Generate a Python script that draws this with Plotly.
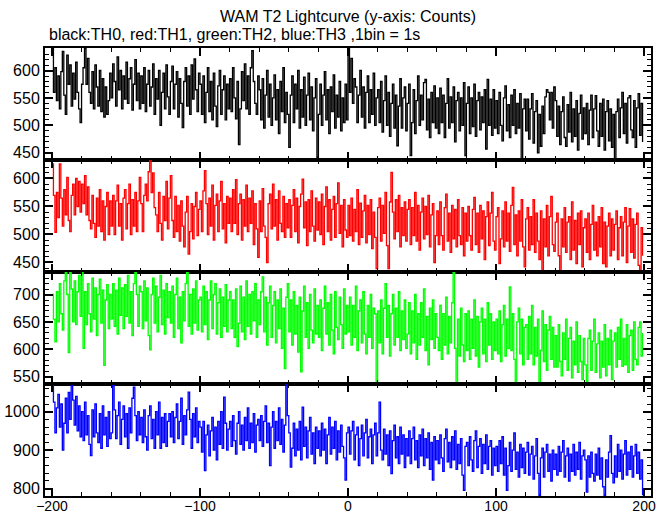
import plotly.graph_objects as go
from plotly.subplots import make_subplots

# time bins (1 bin = 1 s)
time_s = list(range(-200, 200))

th0_black = [
    640, 560, 605, 545, 590, 530, 598, 635, 555, 520, 628, 575, 610, 535, 595, 548, 615, 560, 530, 505,
    575, 605, 640, 575, 622, 560, 540, 598, 530, 610, 570, 535, 600, 525, 585, 515, 570, 520, 545, 595,
    550, 612, 580, 535, 625, 565, 600, 530, 590, 548, 615, 540, 585, 605, 528, 575, 620, 545, 595, 530,
    590, 540, 605, 525, 575, 600, 535, 570, 612, 520, 585, 548, 600, 500, 560, 595, 530, 610, 552, 520,
    580, 608, 530, 575, 598, 515, 585, 540, 496, 580, 605, 535, 590, 520, 610, 548, 621, 565, 525, 595,
    575, 520, 590, 505, 560, 605, 525, 580, 510, 595, 535, 498, 572, 600, 520, 565, 590, 510, 575, 530,
    585, 525, 605, 550, 512, 580, 465, 530, 598, 545, 612, 530, 590, 520, 605, 636, 580, 540, 520, 590,
    565, 510, 585, 495, 555, 600, 515, 575, 500, 550, 592, 510, 565, 485, 580, 525, 605, 505, 560, 520,
    460, 555, 590, 505, 575, 530, 600, 495, 565, 515, 588, 500, 555, 595, 510, 570, 490, 550, 585, 442,
    520, 575, 500, 555, 598, 510, 565, 485, 570, 525, 592, 495, 555, 515, 580, 490, 550, 505, 575, 510,
    641, 560, 622, 540, 585, 570, 505, 555, 600, 515, 570, 495, 560, 590, 505, 565, 520, 595, 500, 550,
    565, 505, 580, 488, 545, 590, 500, 560, 480, 540, 575, 495, 555, 463, 535, 585, 495, 550, 570, 490,
    540, 575, 445, 505, 565, 485, 545, 590, 500, 555, 510, 578, 584, 492, 548, 478, 560, 505, 572, 495,
    550, 485, 568, 505, 555, 478, 540, 585, 495, 552, 505, 570, 470, 545, 560, 490, 550, 500, 578, 445,
    540, 570, 485, 550, 498, 575, 480, 545, 560, 492, 552, 505, 565, 457, 584, 500, 548, 482, 565, 495,
    545, 485, 560, 500, 472, 550, 572, 490, 538, 478, 555, 500, 565, 485, 540, 495, 558, 439, 530, 548,
    490, 548, 475, 530, 558, 468, 525, 545, 450, 520, 462, 535, 485, 552, 565, 560, 510, 560, 495, 570,
    545, 480, 535, 465, 525, 552, 478, 462, 538, 488, 560, 470, 530, 480, 545, 455, 522, 555, 475, 532,
    485, 540, 465, 528, 555, 478, 530, 554, 490, 462, 540, 480, 548, 455, 525, 545, 472, 530, 460, 520,
    439, 525, 548, 478, 532, 560, 485, 540, 468, 550, 554, 492, 478, 545, 460, 532, 558, 482, 540, 470,
]

th1_red = [
    626, 570, 504, 575, 530, 626, 565, 515, 580, 535, 602, 525, 505, 570, 590, 535, 600, 550, 595, 540,
    590, 555, 605, 535, 585, 525, 510, 570, 520, 495, 565, 515, 580, 505, 560, 490, 550, 575, 500, 560,
    515, 570, 500, 560, 588, 515, 555, 490, 565, 580, 510, 555, 590, 500, 562, 515, 575, 505, 560, 602,
    555, 505, 570, 590, 560, 612, 635, 575, 610, 548, 535, 505, 575, 520, 490, 568, 525, 595, 510, 565,
    605, 525, 495, 568, 505, 552, 488, 560, 515, 478, 540, 568, 465, 505, 555, 492, 550, 575, 498, 545,
    560, 505, 578, 614, 555, 500, 565, 515, 588, 490, 552, 572, 505, 560, 595, 510, 555, 485, 568, 520,
    565, 505, 580, 520, 598, 500, 555, 572, 490, 562, 515, 588, 505, 565, 520, 578, 482, 555, 510, 459,
    560, 505, 582, 515, 495, 450, 555, 572, 510, 590, 515, 562, 490, 578, 520, 505, 568, 495, 555, 512,
    562, 495, 552, 580, 505, 565, 485, 550, 572, 599, 512, 558, 480, 562, 505, 578, 515, 488, 565, 508,
    558, 500, 572, 482, 550, 585, 505, 562, 490, 545, 568, 495, 555, 592, 502, 552, 478, 562, 508, 495,
    552, 498, 565, 488, 545, 505, 580, 482, 556, 495, 542, 570, 485, 552, 500, 562, 475, 540, 495, 439,
    548, 565, 488, 552, 502, 575, 480, 439, 558, 611, 540, 492, 562, 505, 570, 478, 548, 498, 558, 488,
    545, 562, 482, 548, 498, 575, 488, 552, 472, 540, 565, 492, 550, 500, 570, 478, 535, 555, 450, 498,
    542, 482, 558, 498, 472, 548, 572, 488, 538, 468, 552, 492, 545, 478, 562, 498, 482, 548, 462, 538,
    488, 550, 498, 472, 545, 566, 482, 538, 468, 552, 492, 542, 455, 532, 558, 480, 538, 575, 488, 472,
    532, 548, 448, 492, 542, 478, 558, 488, 538, 470, 552, 584, 482, 535, 462, 542, 488, 562, 478, 442,
    528, 548, 472, 532, 482, 562, 468, 538, 488, 455, 542, 436, 528, 478, 552, 462, 532, 568, 482, 470,
    522, 538, 462, 433, 528, 478, 548, 468, 522, 532, 455, 558, 472, 525, 448, 538, 482, 542, 442, 512,
    528, 468, 538, 455, 518, 552, 472, 522, 462, 532, 478, 548, 448, 522, 442, 515, 538, 462, 528, 472,
    518, 542, 455, 512, 532, 462, 522, 548, 450, 515, 546, 468, 528, 458, 518, 538, 445, 433, 512, 462,
]

th2_green = [
    700, 655, 614, 705, 650, 720, 665, 635, 725, 740, 700, 594, 740, 710, 650, 725, 645, 705, 735, 660,
    740, 602, 705, 645, 720, 665, 632, 730, 655, 712, 625, 700, 728, 648, 708, 571, 690, 718, 638, 700,
    655, 720, 642, 708, 628, 730, 662, 712, 638, 718, 660, 735, 648, 705, 625, 720, 740, 700, 642, 715,
    705, 638, 725, 652, 712, 625, 599, 700, 730, 648, 715, 632, 695, 735, 645, 708, 628, 720, 658, 705,
    648, 715, 622, 700, 730, 638, 695, 612, 705, 652, 720, 740, 642, 700, 628, 710, 648, 725, 635, 690,
    695, 632, 715, 645, 705, 618, 690, 725, 638, 700, 720, 628, 685, 710, 622, 695, 642, 718, 632, 690,
    705, 638, 690, 622, 710, 605, 648, 715, 632, 695, 618, 725, 642, 700, 628, 705, 652, 720, 622, 690,
    645, 705, 732, 632, 695, 608, 685, 715, 622, 680, 705, 612, 690, 638, 710, 602, 675, 565, 695, 720,
    632, 690, 608, 705, 628, 680, 595, 695, 559, 670, 715, 622, 685, 602, 700, 635, 612, 710, 628, 680,
    622, 690, 598, 675, 715, 628, 685, 608, 700, 635, 592, 705, 640, 618, 695, 645, 602, 710, 628, 680,
    632, 695, 608, 680, 622, 715, 598, 670, 690, 612, 705, 628, 592, 680, 622, 700, 602, 675, 665, 541,
    670, 612, 690, 592, 675, 720, 622, 680, 588, 665, 700, 608, 675, 622, 705, 598, 670, 618, 690, 602,
    628, 685, 592, 670, 612, 700, 582, 665, 608, 685, 622, 710, 598, 660, 572, 675, 618, 690, 602, 665,
    622, 598, 680, 582, 665, 608, 695, 592, 660, 612, 685, 740, 602, 538, 655, 588, 675, 608, 578, 665,
    598, 670, 582, 655, 602, 690, 588, 660, 568, 650, 675, 592, 655, 578, 685, 608, 665, 582, 650, 598,
    655, 592, 670, 578, 645, 680, 588, 655, 602, 714, 598, 665, 582, 538, 650, 675, 592, 655, 572, 640,
    645, 582, 660, 592, 680, 572, 640, 588, 655, 538, 598, 670, 578, 645, 562, 635, 660, 582, 640, 568,
    625, 568, 645, 578, 552, 630, 582, 655, 562, 620, 640, 548, 615, 572, 650, 558, 625, 578, 545, 620,
    572, 535, 620, 635, 562, 615, 655, 558, 610, 630, 548, 615, 568, 645, 552, 620, 572, 635, 545, 615,
    630, 568, 640, 582, 655, 569, 620, 572, 645, 558, 625, 635, 562, 650, 582, 572, 640, 650, 588, 630,
]

th3_blue = [
    1068, 1025, 945, 1010, 1045, 960, 1020, 900, 970, 1035, 945, 1050, 980, 1068, 1030, 965, 1040, 950, 1015, 935,
    1000, 925, 1025, 940, 990, 915, 886, 1005, 935, 1020, 945, 920, 995, 905, 1015, 940, 985, 910, 1000, 930,
    945, 1068, 1005, 930, 990, 1025, 915, 980, 1015, 935, 995, 905, 1010, 945, 1035, 1064, 990, 925, 1000, 940,
    985, 920, 1005, 935, 900, 990, 1015, 930, 980, 905, 1000, 940, 1025, 905, 985, 920, 995, 910, 975, 995,
    935, 1000, 920, 985, 1020, 930, 975, 1035, 915, 990, 940, 1005, 1051, 980, 905, 995, 935, 1010, 920, 975,
    960, 895, 975, 847, 940, 965, 885, 950, 985, 900, 960, 875, 975, 915, 1000, 905, 1038, 970, 900, 955,
    975, 910, 990, 925, 890, 970, 1000, 915, 965, 900, 985, 925, 1010, 905, 970, 920, 995, 895, 965, 980,
    925, 990, 910, 975, 1015, 920, 970, 860, 960, 1000, 905, 975, 925, 1010, 915, 980, 895, 965, 1072, 990,
    945, 856, 905, 970, 885, 955, 900, 975, 875, 1012, 910, 960, 880, 950, 985, 890, 945, 865, 960, 905,
    950, 885, 970, 900, 955, 865, 940, 985, 890, 960, 905, 975, 875, 950, 895, 965, 910, 880, 822, 945,
    960, 890, 950, 975, 875, 940, 960, 860, 930, 965, 885, 945, 980, 880, 935, 955, 865, 940, 970, 885,
    945, 1025, 900, 875, 955, 890, 940, 860, 950, 839, 925, 965, 880, 935, 865, 960, 890, 940, 855, 930,
    885, 950, 865, 930, 960, 875, 925, 855, 940, 885, 955, 860, 930, 880, 945, 850, 920, 822, 935, 875,
    925, 865, 940, 880, 845, 930, 955, 870, 920, 855, 935, 875, 950, 850, 915, 865, 930, 835, 796, 910,
    920, 860, 935, 875, 845, 925, 950, 855, 910, 930, 840, 915, 865, 940, 850, 910, 925, 835, 905, 860,
    910, 845, 925, 865, 935, 835, 905, 796, 860, 920, 845, 900, 945, 850, 895, 830, 915, 855, 905, 840,
    895, 920, 835, 890, 910, 825, 885, 930, 840, 783, 880, 905, 830, 895, 915, 845, 890, 820, 900, 850,
    890, 835, 910, 845, 895, 925, 830, 885, 905, 820, 890, 845, 915, 835, 895, 850, 920, 825, 885, 900,
    875, 791, 885, 830, 895, 840, 820, 890, 835, 905, 825, 880, 805, 783, 875, 830, 895, 938, 840, 815,
    885, 830, 915, 845, 900, 825, 890, 925, 835, 895, 850, 910, 830, 885, 915, 840, 895, 825, 875, 783,
]

series = [
    (th0_black, "#000000", [437, 641], 50, 10),
    (th1_red, "#ff0000", [433, 633], 50, 10),
    (th2_green, "#00ff00", [537, 741], 50, 10),
    (th3_blue, "#0000ff", [781, 1072], 100, 20),
]

FONT = "Liberation Sans, Arial, Helvetica, sans-serif"

fig = make_subplots(rows=4, cols=1, shared_xaxes=True, vertical_spacing=0)

for i, (vals, col, yr, dt, mdt) in enumerate(series, start=1):
    fig.add_trace(
        go.Scatter(x=time_s, y=vals, mode="lines", line=dict(color=col, width=1.3, shape="hv"),
                   showlegend=False, hoverinfo="skip"),
        row=i, col=1,
    )
    fig.update_yaxes(
        range=yr, dtick=dt, tick0=0, ticks="inside", ticklen=8, tickwidth=2, tickcolor="black",
        minor=dict(dtick=mdt, ticks="inside", ticklen=4, tickwidth=1, tickcolor="black", showgrid=False),
        mirror="allticks", showline=True, linewidth=2, linecolor="black", automargin=False,
        showgrid=False, zeroline=False, tickfont=dict(size=16, color="black", family=FONT),
        row=i, col=1,
    )
    fig.update_xaxes(
        range=[-204.7, 204.7], dtick=100, tick0=0, ticks="inside", ticklen=8, tickwidth=2, tickcolor="black",
        minor=dict(dtick=20, ticks="inside", ticklen=4, tickwidth=1, tickcolor="black", showgrid=False),
        mirror="allticks", showline=True, linewidth=2, linecolor="black", automargin=False,
        showgrid=False, zeroline=False, showticklabels=(i == 4), ticklabelstandoff=-4,
        tickfont=dict(size=14, color="black", family=FONT),
        row=i, col=1,
    )

fig.add_annotation(text="WAM T2 Lightcurve (y-axis: Counts)", xref="paper", yref="paper",
                   x=0.5, y=(496 - 17) / 448, xanchor="center", yanchor="middle", showarrow=False,
                   font=dict(size=16, color="black", family=FONT))
fig.add_annotation(text="black:TH0, red:TH1, green:TH2, blue:TH3 ,1bin = 1s", xref="paper", yref="paper",
                   x=(47 - 45) / 606, y=(496 - 35) / 448, xanchor="left", yanchor="middle", showarrow=False,
                   font=dict(size=16, color="black", family=FONT))

fig.update_layout(
    width=669, height=515,
    margin=dict(l=45, r=18, t=48, b=19, autoexpand=False),
    paper_bgcolor="white", plot_bgcolor="white",
    font=dict(family=FONT, size=16, color="black"),
)

# remove the default 8px page margin so the figure sits at the top-left corner
fig.write_html("out.html", config={"displayModeBar": False},
               post_script="document.body.style.margin='0';")
